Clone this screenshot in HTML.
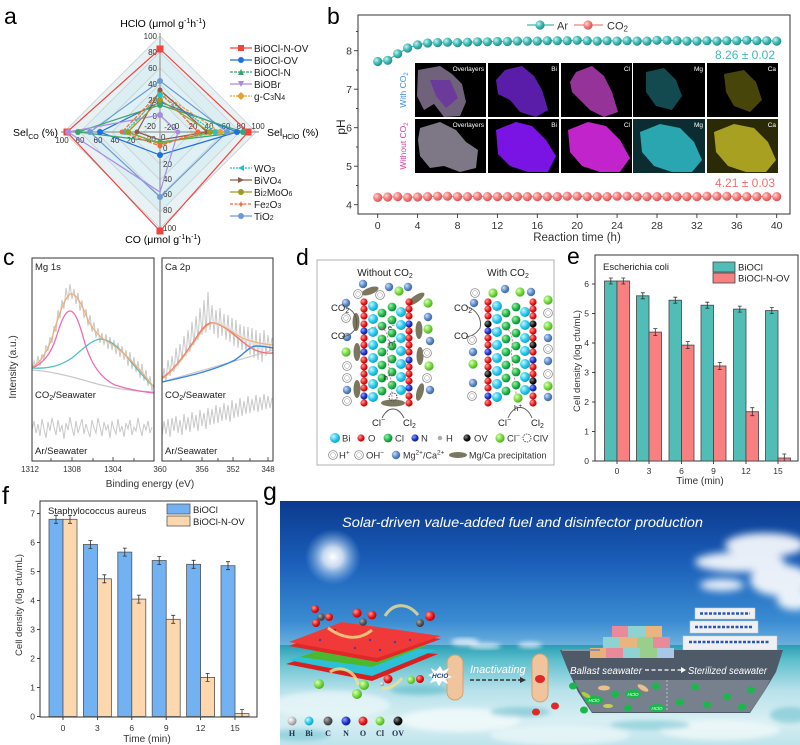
<!DOCTYPE html>
<html><head><meta charset="utf-8"><style>
html,body{margin:0;padding:0;background:#fff;}
svg{display:block;font-family:"Liberation Sans",Arial,sans-serif;}
</style></head><body>
<svg width="800" height="745" viewBox="0 0 800 745" xmlns="http://www.w3.org/2000/svg">
<defs>
<radialGradient id="gt" cx="35%" cy="35%" r="70%"><stop offset="0" stop-color="#c8f3f0"/><stop offset="0.5" stop-color="#45bdb8"/><stop offset="1" stop-color="#1f8985"/></radialGradient>
<radialGradient id="gp" cx="35%" cy="35%" r="70%"><stop offset="0" stop-color="#ffd6d6"/><stop offset="0.5" stop-color="#f57f7f"/><stop offset="1" stop-color="#d45050"/></radialGradient>
<radialGradient id="gBi" cx="35%" cy="35%" r="70%"><stop offset="0" stop-color="#c9f6ff"/><stop offset="0.6" stop-color="#22c8ea"/><stop offset="1" stop-color="#0a9ec0"/></radialGradient>
<radialGradient id="gO" cx="35%" cy="35%" r="70%"><stop offset="0" stop-color="#ff9a9a"/><stop offset="0.6" stop-color="#e81818"/><stop offset="1" stop-color="#b00000"/></radialGradient>
<radialGradient id="gCl" cx="35%" cy="35%" r="70%"><stop offset="0" stop-color="#9ff0a8"/><stop offset="0.6" stop-color="#1fb64a"/><stop offset="1" stop-color="#0c8030"/></radialGradient>
<radialGradient id="gClm" cx="35%" cy="35%" r="70%"><stop offset="0" stop-color="#dcffb8"/><stop offset="0.6" stop-color="#72d83a"/><stop offset="1" stop-color="#48a820"/></radialGradient>
<radialGradient id="gN" cx="35%" cy="35%" r="70%"><stop offset="0" stop-color="#8aa0ff"/><stop offset="0.6" stop-color="#2030c8"/><stop offset="1" stop-color="#101a80"/></radialGradient>
<radialGradient id="gMg" cx="35%" cy="35%" r="70%"><stop offset="0" stop-color="#c8dcf8"/><stop offset="0.6" stop-color="#5a86c6"/><stop offset="1" stop-color="#3a64a0"/></radialGradient>
<radialGradient id="gK" cx="35%" cy="35%" r="70%"><stop offset="0" stop-color="#888"/><stop offset="0.6" stop-color="#111"/><stop offset="1" stop-color="#000"/></radialGradient>
<radialGradient id="gC" cx="35%" cy="35%" r="70%"><stop offset="0" stop-color="#aaa"/><stop offset="0.6" stop-color="#555"/><stop offset="1" stop-color="#333"/></radialGradient>
<radialGradient id="gH" cx="35%" cy="35%" r="70%"><stop offset="0" stop-color="#fff"/><stop offset="0.6" stop-color="#bbb"/><stop offset="1" stop-color="#888"/></radialGradient>
<radialGradient id="sun" cx="50%" cy="50%" r="50%"><stop offset="0" stop-color="#fff" stop-opacity="1"/><stop offset="0.35" stop-color="#f4f8ff" stop-opacity="0.8"/><stop offset="1" stop-color="#8cc4f0" stop-opacity="0"/></radialGradient>
<linearGradient id="sky" x1="0" y1="0" x2="0" y2="1"><stop offset="0" stop-color="#0b3a8e"/><stop offset="0.4" stop-color="#1a5db8"/><stop offset="0.8" stop-color="#3a8cd2"/><stop offset="1" stop-color="#78b9e0"/></linearGradient>
<linearGradient id="sea" x1="0" y1="0" x2="0" y2="1"><stop offset="0" stop-color="#2b9db4"/><stop offset="0.15" stop-color="#5cbfcc"/><stop offset="0.45" stop-color="#b7e1ea"/><stop offset="0.75" stop-color="#d8eff3"/><stop offset="1" stop-color="#bfe4ec"/></linearGradient>
<filter id="blur2"><feGaussianBlur stdDeviation="2.5"/></filter>
<filter id="blur4"><feGaussianBlur stdDeviation="4"/></filter>
<filter id="blur1"><feGaussianBlur stdDeviation="1"/></filter>
<clipPath id="cL"><rect x="32" y="258" width="122" height="203"/></clipPath>
<clipPath id="cR"><rect x="162" y="258" width="111" height="203"/></clipPath>
<clipPath id="cG"><rect x="280" y="501" width="520" height="244"/></clipPath>
<circle id="bt" r="4.6" fill="url(#gt)"/>
<circle id="bp" r="4.6" fill="url(#gp)"/>
<circle id="aBi" r="5" fill="url(#gBi)"/>
<circle id="aO" r="3.6" fill="url(#gO)"/>
<circle id="aCl" r="4.4" fill="url(#gCl)"/>
<circle id="aN" r="3.6" fill="url(#gN)"/>
<circle id="aOV" r="3.6" fill="url(#gK)"/>
<circle id="aMg" r="4.2" fill="url(#gMg)"/>
<circle id="aClm" r="4.6" fill="url(#gClm)"/>
<g id="aOH"><circle r="4.4" fill="#fff" stroke="#888" stroke-width="0.8"/><circle r="2.4" fill="none" stroke="#999" stroke-width="0.5"/></g>
</defs>

<!-- ================= PANEL A ================= -->
<text x="4" y="24" font-size="23">a</text>
<text x="163" y="27" font-size="10.5" text-anchor="middle">HClO (μmol g<tspan dy="-4" font-size="7">-1</tspan><tspan dy="4">h</tspan><tspan dy="-4" font-size="7">-1</tspan><tspan dy="4">)</tspan></text>
<text x="163" y="243" font-size="10.5" text-anchor="middle">CO (μmol g<tspan dy="-4" font-size="7">-1</tspan><tspan dy="4">h</tspan><tspan dy="-4" font-size="7">-1</tspan><tspan dy="4">)</tspan></text>
<text x="13" y="136" font-size="10.5">Sel<tspan font-size="7" dy="3">CO</tspan><tspan dy="-3"> (%)</tspan></text>
<text x="267" y="136" font-size="10.5">Sel<tspan font-size="7" dy="3">HClO</tspan><tspan dy="-3"> (%)</tspan></text>
<!-- grid -->
<polygon points="160,36 256,132 160,228 64,132" fill="#e8f2f5" stroke="#c9cfd2" stroke-width="0.8"/>
<polygon points="160,52 240,132 160,212 80,132" fill="#dbeff3" stroke="#c9cfd2" stroke-width="0.8"/>
<polygon points="160,68 224,132 160,196 96,132" fill="#dff1f4" stroke="#c9cfd2" stroke-width="0.8"/>
<polygon points="160,84 208,132 160,180 112,132" fill="#dbeff3" stroke="#c9cfd2" stroke-width="0.8"/>
<polygon points="160,100 192,132 160,164 128,132" fill="#e0f1f4" stroke="#c9cfd2" stroke-width="0.8"/>
<polygon points="160,116 176,132 160,148 144,132" fill="#e6f3f6" stroke="#c9cfd2" stroke-width="0.8"/>
<line x1="160" y1="33" x2="160" y2="231" stroke="#9a9a9a" stroke-width="1.2"/>
<line x1="61" y1="132" x2="259" y2="132" stroke="#9a9a9a" stroke-width="1.2"/>
<g font-size="8" fill="#333">
<text x="157" y="39" text-anchor="end">100</text><text x="157" y="55" text-anchor="end">80</text><text x="157" y="71" text-anchor="end">60</text><text x="157" y="87" text-anchor="end">40</text><text x="157" y="103" text-anchor="end">20</text><text x="157" y="119" text-anchor="end">0</text>
<text x="163" y="151">0</text><text x="163" y="167">20</text><text x="163" y="182">40</text><text x="163" y="197">60</text><text x="163" y="213">80</text><text x="163" y="231">100</text>
<text x="62" y="143" text-anchor="middle">100</text><text x="80" y="143" text-anchor="middle">80</text><text x="98" y="143" text-anchor="middle">60</text><text x="115" y="143" text-anchor="middle">40</text><text x="131" y="143" text-anchor="middle">20</text>
<text x="177" y="129" text-anchor="middle">0</text><text x="193" y="129" text-anchor="middle">20</text><text x="209" y="129" text-anchor="middle">40</text><text x="226" y="129" text-anchor="middle">60</text><text x="241" y="129" text-anchor="middle">80</text><text x="258" y="129" text-anchor="middle">100</text>
<text x="150" y="129" text-anchor="middle">-20</text><text x="170" y="130" text-anchor="middle">-20</text><text x="150" y="142" text-anchor="middle">-20</text><text x="161" y="140">0</text>
</g>
<!-- series -->
<g fill="none" stroke-width="1.2">
<polygon points="160,49 248,132 160,231 67,132" stroke="#f0443f"/>
<polygon points="160,81 227,132 160,197 90,132" stroke="#6d9ad6"/>
<polygon points="160,102 237,132 160,155 100,132" stroke="#1f6fe0"/>
<polygon points="160,105 243,132 160,142 78,132" stroke="#3aa56e"/>
<polygon points="160,115 178,132 160,192 68,132" stroke="#a98be6"/>
<polygon points="160,92 220,132 160,143 128,132" stroke="#e6a033" stroke-dasharray="3,1.5"/>
<polygon points="160,95 215,132 160,143 125,132" stroke="#22c3cf" stroke-dasharray="2,1"/>
<polygon points="160,90 207,132 160,140 137,132" stroke="#8d5b4c"/>
<polygon points="160,100 210,132 160,144 128,132" stroke="#9c9c20"/>
<polygon points="160,92 198,132 160,146 122,132" stroke="#f2693c" stroke-dasharray="4,1.5"/>
</g>
<g>
<rect x="156.5" y="45.5" width="7" height="7" fill="#f0443f"/><rect x="244.5" y="128.5" width="7" height="7" fill="#f0443f"/><rect x="156.5" y="227.5" width="7" height="7" fill="#f0443f"/><rect x="63.5" y="128.5" width="7" height="7" fill="#f0443f"/>
<g fill="#6d9ad6"><circle cx="160" cy="81" r="3"/><circle cx="227" cy="132" r="3"/><circle cx="160" cy="197" r="3"/><circle cx="90" cy="132" r="3"/></g>
<g fill="#1f6fe0"><circle cx="160" cy="102" r="3"/><circle cx="237" cy="132" r="3"/><circle cx="160" cy="155" r="3"/><circle cx="100" cy="132" r="3"/></g>
<g fill="#3aa56e"><circle cx="160" cy="105" r="3"/><circle cx="243" cy="132" r="3"/><circle cx="160" cy="142" r="2.5"/><circle cx="78" cy="132" r="3"/></g>
<g fill="#a98be6"><circle cx="160" cy="115" r="3"/><circle cx="178" cy="132" r="2.5"/><circle cx="68" cy="132" r="3"/></g>
<g fill="#e6a033"><circle cx="160" cy="92" r="3"/><circle cx="220" cy="132" r="3"/><circle cx="128" cy="132" r="3"/></g>
<g fill="#22c3cf"><circle cx="160" cy="95" r="3"/><circle cx="215" cy="132" r="3"/><circle cx="125" cy="132" r="3"/></g>
<g fill="#8d5b4c"><circle cx="160" cy="90" r="2.5"/><circle cx="207" cy="132" r="2.5"/><circle cx="137" cy="132" r="2.5"/></g>
<g fill="#9c9c20"><circle cx="160" cy="100" r="3"/><circle cx="210" cy="132" r="3"/><circle cx="128" cy="132" r="3"/><circle cx="160" cy="144" r="2.5"/></g>
<g fill="#f2693c"><circle cx="198" cy="132" r="2.5"/><circle cx="122" cy="132" r="2.5"/><circle cx="160" cy="146" r="2.5"/></g>
</g>
<!-- legend a -->
<g font-size="10" fill="#222" stroke-width="1.2">
<line x1="230" y1="48" x2="252" y2="48" stroke="#f0443f"/><rect x="238" y="45" width="6" height="6" fill="#f0443f"/><text x="254" y="52">BiOCl-N-OV</text>
<line x1="230" y1="60" x2="252" y2="60" stroke="#1f6fe0"/><circle cx="241" cy="60" r="3" fill="#1f6fe0"/><text x="254" y="64">BiOCl-OV</text>
<line x1="230" y1="72" x2="252" y2="72" stroke="#3aa56e" stroke-dasharray="3,1"/><path d="M238,75 L244,75 L241,69Z" fill="#3aa56e"/><text x="254" y="76">BiOCl-N</text>
<line x1="230" y1="84" x2="252" y2="84" stroke="#a98be6"/><path d="M238,81 L244,81 L241,87Z" fill="#a98be6"/><text x="254" y="88">BiOBr</text>
<line x1="230" y1="96" x2="252" y2="96" stroke="#e6a033" stroke-dasharray="2,1"/><path d="M241,92 L245,96 L241,100 L237,96Z" fill="#e6a033"/><text x="254" y="100">g-C<tspan font-size="7">3</tspan>N<tspan font-size="7">4</tspan></text>
<line x1="230" y1="168" x2="252" y2="168" stroke="#22c3cf" stroke-dasharray="2,1"/><path d="M238,168 L244,165 L244,171Z" fill="#22c3cf"/><text x="254" y="172">WO<tspan font-size="7">3</tspan></text>
<line x1="230" y1="180" x2="252" y2="180" stroke="#8d5b4c"/><path d="M244,180 L238,177 L238,183Z" fill="#8d5b4c"/><text x="254" y="184">BiVO<tspan font-size="7">4</tspan></text>
<line x1="230" y1="192" x2="252" y2="192" stroke="#9c9c20"/><circle cx="241" cy="192" r="3" fill="#9c9c20"/><text x="254" y="196">Bi<tspan font-size="7">2</tspan>MoO<tspan font-size="7">6</tspan></text>
<line x1="230" y1="204" x2="252" y2="204" stroke="#f2693c" stroke-dasharray="3,1.5"/><path d="M241,201 L242,203.5 L244.5,204 L242,205 L241,207.5 L240,205 L237.5,204 L240,203.5Z" fill="#f2693c"/><text x="254" y="208">Fe<tspan font-size="7">2</tspan>O<tspan font-size="7">3</tspan></text>
<line x1="230" y1="216" x2="252" y2="216" stroke="#6d9ad6"/><circle cx="241" cy="216" r="3" fill="#6d9ad6"/><text x="254" y="220">TiO<tspan font-size="7">2</tspan></text>
</g>

<!-- ================= PANEL B ================= -->
<text x="327" y="24" font-size="23">b</text>
<rect x="358" y="15" width="432" height="199" fill="#fff" stroke="#333" stroke-width="1"/>
<g stroke="#333" stroke-width="0.9">
<line x1="354" y1="204.7" x2="358" y2="204.7"/><line x1="354" y1="166.2" x2="358" y2="166.2"/><line x1="354" y1="127.7" x2="358" y2="127.7"/><line x1="354" y1="89.2" x2="358" y2="89.2"/><line x1="354" y1="50.7" x2="358" y2="50.7"/>
<line x1="356" y1="185.5" x2="358" y2="185.5"/><line x1="356" y1="147" x2="358" y2="147"/><line x1="356" y1="108.5" x2="358" y2="108.5"/><line x1="356" y1="70" x2="358" y2="70"/><line x1="356" y1="31.5" x2="358" y2="31.5"/>
<line x1="377.7" y1="214" x2="377.7" y2="218"/><line x1="417.6" y1="214" x2="417.6" y2="218"/><line x1="457.5" y1="214" x2="457.5" y2="218"/><line x1="497.4" y1="214" x2="497.4" y2="218"/><line x1="537.3" y1="214" x2="537.3" y2="218"/><line x1="577.2" y1="214" x2="577.2" y2="218"/><line x1="617.1" y1="214" x2="617.1" y2="218"/><line x1="657" y1="214" x2="657" y2="218"/><line x1="696.9" y1="214" x2="696.9" y2="218"/><line x1="736.8" y1="214" x2="736.8" y2="218"/><line x1="776.7" y1="214" x2="776.7" y2="218"/>
</g>
<g font-size="10.5" fill="#333" text-anchor="end">
<text x="352" y="208.5">4</text><text x="352" y="170">5</text><text x="352" y="131.5">6</text><text x="352" y="93">7</text><text x="352" y="54.5">8</text>
</g>
<g font-size="10.5" fill="#333" text-anchor="middle">
<text x="377.7" y="229">0</text><text x="417.6" y="229">4</text><text x="457.5" y="229">8</text><text x="497.4" y="229">12</text><text x="537.3" y="229">16</text><text x="577.2" y="229">20</text><text x="617.1" y="229">24</text><text x="657" y="229">28</text><text x="696.9" y="229">32</text><text x="736.8" y="229">36</text><text x="776.7" y="229">40</text>
<text x="577" y="241" font-size="11.5">Reaction time (h)</text>
</g>
<text transform="translate(345,127) rotate(-90)" font-size="12" text-anchor="middle" fill="#222">pH</text>
<!-- legend b -->
<line x1="527" y1="25" x2="554" y2="25" stroke="#3cb8b4" stroke-width="1.3"/><use href="#bt" x="540" y="25"/>
<text x="557" y="29.5" font-size="11" fill="#333">Ar</text>
<line x1="574" y1="25" x2="603" y2="25" stroke="#f57f7f" stroke-width="1.3"/><use href="#bp" x="588" y="25"/>
<text x="607" y="29.5" font-size="11" fill="#333">CO<tspan font-size="8" dy="2">2</tspan></text>
<text x="775" y="59" font-size="12" fill="#3fb9b6" text-anchor="end">8.26 ± 0.02</text>
<text x="775" y="187" font-size="12" fill="#f27070" text-anchor="end">4.21 ± 0.03</text>
<!-- inset -->
<g>
<rect x="415" y="63" width="71" height="54" fill="#000"/>
<rect x="488" y="63" width="71" height="54" fill="#000"/>
<rect x="561" y="63" width="71" height="54" fill="#000"/>
<rect x="633" y="63" width="72" height="54" fill="#000"/>
<rect x="707" y="63" width="71" height="54" fill="#000"/>
<rect x="415" y="119" width="71" height="54" fill="#000"/>
<rect x="488" y="119" width="71" height="54" fill="#000"/>
<rect x="561" y="119" width="71" height="54" fill="#000"/>
<rect x="633" y="119" width="72" height="54" fill="#0b2c30"/>
<rect x="707" y="119" width="71" height="54" fill="#2a2a06"/>
<!-- row1 blobs -->
<path d="M418,70 L440,66 L452,74 L462,84 L466,102 L460,116 L444,117 L434,104 L424,110 L417,96Z" fill="#7d6d88" opacity="0.9"/>
<path d="M430,80 L450,80 L458,98 L446,108 L436,96Z" fill="#6a2aa8" opacity="0.7"/>
<path d="M505,70 L522,66 L534,76 L542,90 L548,110 L536,117 L520,112 L510,100 L498,94 L496,80Z" fill="#6a22c8" opacity="0.85"/>
<path d="M576,72 L592,66 L604,76 L612,92 L618,112 L604,117 L590,110 L580,100 L572,92 L570,82Z" fill="#b03cb4" opacity="0.85"/>
<path d="M646,72 L664,68 L676,80 L682,96 L672,110 L656,106 L646,92Z" fill="#1a6a72" opacity="0.7"/>
<path d="M724,74 L744,70 L756,82 L762,100 L750,112 L734,106 L726,92Z" fill="#5a560e" opacity="0.8"/>
<!-- row2 blobs -->
<path d="M420,128 L440,122 L456,130 L466,142 L478,150 L476,168 L460,172 L444,166 L430,168 L420,156 L418,140Z" fill="#8c8494" opacity="0.9"/>
<path d="M496,130 L516,122 L532,126 L546,140 L556,156 L548,172 L528,172 L510,166 L498,154Z" fill="#7a14e4"/>
<path d="M568,130 L588,122 L606,126 L620,140 L630,158 L620,172 L600,172 L582,166 L570,152Z" fill="#c224cc"/>
<path d="M640,132 L660,124 L680,128 L694,142 L702,160 L692,172 L672,172 L654,166 L642,152Z" fill="#2aa6b0"/>
<path d="M714,132 L734,124 L754,128 L768,142 L776,160 L766,172 L746,172 L728,166 L716,152Z" fill="#a8a020"/>
<g font-size="6.5" fill="#fff" text-anchor="end">
<text x="484" y="71">Overlayers</text><text x="557" y="71">Bi</text><text x="630" y="71">Cl</text><text x="703" y="71">Mg</text><text x="776" y="71">Ca</text>
<text x="484" y="127">Overlayers</text><text x="557" y="127">Bi</text><text x="630" y="127">Cl</text><text x="703" y="127">Mg</text><text x="776" y="127">Ca</text>
</g>
<text transform="translate(406,90) rotate(-90)" font-size="8.5" fill="#3a8ee6" text-anchor="middle">With CO<tspan font-size="6" dy="2">2</tspan></text>
<text transform="translate(406,146) rotate(-90)" font-size="8.5" fill="#e0409c" text-anchor="middle">Without CO<tspan font-size="6" dy="2">2</tspan></text>
</g>
<!-- series -->
<polyline fill="none" stroke="#3cb8b4" stroke-width="1.2" points="377.7,61.5 387.7,60.3 397.7,53.8 407.6,48 417.6,44.9 427.6,43 437.6,42.6 447.5,42.2 457.5,42.6 467.5,42.2 477.5,41.8 487.4,41.8 497.4,41.5 507.4,41.5 517.4,41.1 527.3,41.1 537.3,41.1 547.3,40.7 557.3,40.7 567.2,40.7 577.2,40.3 587.2,40.7 597.2,41.1 607.1,40.7 617.1,41.1 627.1,40.7 637.1,41.1 647,41.1 657,40.3 667,40.3 677,40.7 686.9,41.1 696.9,41.1 706.9,40.7 716.9,41.1 726.8,40.7 736.8,40.7 746.8,40.3 756.8,40.7 766.7,40.7 776.7,41.1"/>
<g>
<use href="#bt" x="377.7" y="61.5"/><use href="#bt" x="387.7" y="60.3"/><use href="#bt" x="397.7" y="53.8"/><use href="#bt" x="407.6" y="48"/><use href="#bt" x="417.6" y="44.9"/><use href="#bt" x="427.6" y="43"/><use href="#bt" x="437.6" y="42.6"/><use href="#bt" x="447.5" y="42.2"/><use href="#bt" x="457.5" y="42.6"/><use href="#bt" x="467.5" y="42.2"/><use href="#bt" x="477.5" y="41.8"/><use href="#bt" x="487.4" y="41.8"/><use href="#bt" x="497.4" y="41.5"/><use href="#bt" x="507.4" y="41.5"/><use href="#bt" x="517.4" y="41.1"/><use href="#bt" x="527.3" y="41.1"/><use href="#bt" x="537.3" y="41.1"/><use href="#bt" x="547.3" y="40.7"/><use href="#bt" x="557.3" y="40.7"/><use href="#bt" x="567.2" y="40.7"/><use href="#bt" x="577.2" y="40.3"/><use href="#bt" x="587.2" y="40.7"/><use href="#bt" x="597.2" y="41.1"/><use href="#bt" x="607.1" y="40.7"/><use href="#bt" x="617.1" y="41.1"/><use href="#bt" x="627.1" y="40.7"/><use href="#bt" x="637.1" y="41.1"/><use href="#bt" x="647" y="41.1"/><use href="#bt" x="657" y="40.3"/><use href="#bt" x="667" y="40.3"/><use href="#bt" x="677" y="40.7"/><use href="#bt" x="686.9" y="41.1"/><use href="#bt" x="696.9" y="41.1"/><use href="#bt" x="706.9" y="40.7"/><use href="#bt" x="716.9" y="41.1"/><use href="#bt" x="726.8" y="40.7"/><use href="#bt" x="736.8" y="40.7"/><use href="#bt" x="746.8" y="40.3"/><use href="#bt" x="756.8" y="40.7"/><use href="#bt" x="766.7" y="40.7"/><use href="#bt" x="776.7" y="41.1"/>
</g>
<polyline fill="none" stroke="#f57f7f" stroke-width="1.2" points="377.7,197.4 387.7,197 397.7,196.6 407.6,197.4 417.6,197 427.6,196.6 437.6,196.2 447.5,196.2 457.5,196.6 467.5,196.6 477.5,196.2 487.4,196.6 497.4,196.6 507.4,196.6 517.4,196.6 527.3,196.6 537.3,196.6 547.3,196.6 557.3,196.6 567.2,196.2 577.2,196.2 587.2,196.6 597.2,196.6 607.1,196.6 617.1,196.2 627.1,196.2 637.1,196.6 647,196.6 657,196.6 667,196.6 677,196.6 686.9,196.6 696.9,196.6 706.9,196.2 716.9,196.2 726.8,196.2 736.8,196.6 746.8,196.6 756.8,196.6 766.7,196.6 776.7,196.6"/>
<g>
<use href="#bp" x="377.7" y="197.4"/><use href="#bp" x="387.7" y="197"/><use href="#bp" x="397.7" y="196.6"/><use href="#bp" x="407.6" y="197.4"/><use href="#bp" x="417.6" y="197"/><use href="#bp" x="427.6" y="196.6"/><use href="#bp" x="437.6" y="196.2"/><use href="#bp" x="447.5" y="196.2"/><use href="#bp" x="457.5" y="196.6"/><use href="#bp" x="467.5" y="196.6"/><use href="#bp" x="477.5" y="196.2"/><use href="#bp" x="487.4" y="196.6"/><use href="#bp" x="497.4" y="196.6"/><use href="#bp" x="507.4" y="196.6"/><use href="#bp" x="517.4" y="196.6"/><use href="#bp" x="527.3" y="196.6"/><use href="#bp" x="537.3" y="196.6"/><use href="#bp" x="547.3" y="196.6"/><use href="#bp" x="557.3" y="196.6"/><use href="#bp" x="567.2" y="196.2"/><use href="#bp" x="577.2" y="196.2"/><use href="#bp" x="587.2" y="196.6"/><use href="#bp" x="597.2" y="196.6"/><use href="#bp" x="607.1" y="196.6"/><use href="#bp" x="617.1" y="196.2"/><use href="#bp" x="627.1" y="196.2"/><use href="#bp" x="637.1" y="196.6"/><use href="#bp" x="647" y="196.6"/><use href="#bp" x="657" y="196.6"/><use href="#bp" x="667" y="196.6"/><use href="#bp" x="677" y="196.6"/><use href="#bp" x="686.9" y="196.6"/><use href="#bp" x="696.9" y="196.6"/><use href="#bp" x="706.9" y="196.2"/><use href="#bp" x="716.9" y="196.2"/><use href="#bp" x="726.8" y="196.2"/><use href="#bp" x="736.8" y="196.6"/><use href="#bp" x="746.8" y="196.6"/><use href="#bp" x="756.8" y="196.6"/><use href="#bp" x="766.7" y="196.6"/><use href="#bp" x="776.7" y="196.6"/>
</g>

<!-- ================= PANEL C ================= -->
<text x="3" y="265" font-size="23">c</text>
<text transform="translate(16,367) rotate(-90)" font-size="10" text-anchor="middle" fill="#333">Intensity (a.u.)</text>
<g clip-path="url(#cL)" fill="none">
<polyline stroke="#c8c8c8" stroke-width="1" points="32,370 34,361 36,367 38,356 40,366 42,354 44,360 46,345 48,351 50,337 52,343 54,326 56,332 58,310 60,318 62,300 64,309 66,288 68,300 70,284 72,299 74,289 76,304 78,293 80,311 82,300 84,318 86,309 88,326 90,315 92,332 94,322 96,338 98,328 100,343 102,333 104,345 106,334 108,349 110,337 112,350 114,340 116,354 118,343 120,357 122,346 124,360 126,350 128,366 130,352 132,369 134,357 136,372 138,361 140,378 142,364 144,381 146,370 148,386 150,376 152,391 154,383"/>
<path d="M32,370 C50,371 70,376 90,382 C110,388 130,391 154,392" stroke="#c8c8c8" stroke-width="1.2"/>
<path d="M32,368 C42,364 50,356 56,338 C62,318 66,311 70,311 C75,311 79,322 84,340 C90,362 100,378 115,385 C130,390 145,392 154,393" stroke="#f06ab4" stroke-width="1.3"/>
<path d="M32,368 C48,369 60,366 72,358 C84,348 92,340 100,339 C110,339 118,347 127,357 C136,368 146,380 154,387" stroke="#4ec0c4" stroke-width="1.3"/>
<path d="M32,367 C40,363 46,354 52,338 C58,318 63,300 70,294 C76,292 82,305 88,320 C94,332 102,339 110,343 C120,349 130,359 140,370 C146,377 150,383 154,387" stroke="#f2ad70" stroke-width="1.3"/>
<polyline stroke="#c8c8c8" stroke-width="1" points="32,430 34,421 36,433 38,424 40,436 42,419 44,429 46,438 48,422 50,431 52,418 54,427 56,435 58,420 60,432 62,425 64,439 66,423 68,430 70,417 72,428 74,436 76,421 78,433 80,426 82,419 84,434 86,424 88,431 90,437 92,420 94,428 96,433 98,418 100,427 102,436 104,422 106,430 108,425 110,438 112,421 114,429 116,434 118,419 120,432 122,426 124,437 126,423 128,429 130,420 132,435 134,427 136,431 138,418 140,428 142,436 144,424 146,430 148,421 150,433 152,427"/>
</g>
<g clip-path="url(#cR)" fill="none">
<polyline stroke="#c8c8c8" stroke-width="1" points="162,384 164,368 166,381 168,360 170,376 172,356 174,372 176,348 178,366 180,344 182,360 184,336 186,356 188,330 190,352 192,322 194,345 196,316 198,340 200,308 202,335 204,300 206,333 208,292 210,330 212,305 214,334 216,310 218,338 220,308 222,336 224,314 226,340 228,315 230,342 232,318 234,346 236,320 238,348 240,324 242,350 244,326 246,352 248,327 250,355 252,328 254,358 256,330 258,360 260,333 262,362 264,330 266,356 268,335 270,352 272,338"/>
<path d="M162,382 L273,350" stroke="#c8c8c8" stroke-width="1.2"/>
<path d="M162,382 C190,376 215,370 235,360 C245,353 250,346 256,346 C262,346 268,347 273,348" stroke="#3a86e0" stroke-width="1.4"/>
<path d="M162,378 C175,370 188,350 200,332 C206,324 210,322 214,323 C222,324 232,333 243,342 C252,350 262,354 273,353" stroke="#f27272" stroke-width="1.4"/>
<path d="M162,379 C176,370 190,348 202,331 C207,325 211,323 214,323 C222,324 232,332 242,338 C252,342 262,344 273,345" stroke="#f2ad70" stroke-width="1.1"/>
<polyline stroke="#c8c8c8" stroke-width="1" points="162,436 164,421 166,434 168,419 170,437 172,418 174,431 176,416 178,433 180,420 182,435 184,414 186,430 188,417 190,432 192,412 194,428 196,415 198,431 200,410 202,426 204,413 206,429 208,408 210,425 212,409 214,424 216,405 218,423 220,407 222,421 224,403 226,420 228,405 230,422 232,400 234,418 236,403 238,417 240,398 242,416 244,401 246,414 248,396 250,413 252,399 254,411 256,395 258,412 260,397 262,410 264,394 266,409 268,396 270,408 272,398"/>
</g>
<rect x="32" y="258" width="122" height="203" fill="none" stroke="#333" stroke-width="1"/>
<rect x="162" y="258" width="111" height="203" fill="none" stroke="#333" stroke-width="1"/>
<g font-size="9.5" fill="#222">
<text x="35" y="270">Mg 1s</text><text x="165" y="270">Ca 2p</text>
<text x="35" y="398">CO<tspan font-size="7" dy="2">2</tspan><tspan dy="-2">/Seawater</tspan></text>
<text x="165" y="398">CO<tspan font-size="7" dy="2">2</tspan><tspan dy="-2">/Seawater</tspan></text>
<text x="35" y="454">Ar/Seawater</text><text x="165" y="454">Ar/Seawater</text>
</g>
<g stroke="#333" stroke-width="0.8">
<line x1="51" y1="461" x2="51" y2="458"/><line x1="72" y1="461" x2="72" y2="457"/><line x1="93" y1="461" x2="93" y2="458"/><line x1="113" y1="461" x2="113" y2="457"/><line x1="134" y1="461" x2="134" y2="458"/>
<line x1="181" y1="461" x2="181" y2="458"/><line x1="202" y1="461" x2="202" y2="457"/><line x1="218" y1="461" x2="218" y2="458"/><line x1="233" y1="461" x2="233" y2="457"/><line x1="250" y1="461" x2="250" y2="458"/><line x1="268" y1="461" x2="268" y2="457"/>
</g>
<g font-size="8" fill="#333" text-anchor="middle">
<text x="30" y="472">1312</text><text x="72" y="472">1308</text><text x="113" y="472">1304</text><text x="160" y="472">360</text><text x="202" y="472">356</text><text x="233" y="472">352</text><text x="268" y="472">348</text>
<text x="150" y="487" font-size="10">Binding energy (eV)</text>
</g>

<!-- ================= PANEL D ================= -->
<text x="296" y="265" font-size="23">d</text>
<rect x="317" y="260" width="237" height="205" fill="#fff" stroke="#b0b0b0" stroke-width="1"/>
<text x="385" y="276" font-size="10" text-anchor="middle" fill="#222">Without CO<tspan font-size="7" dy="2">2</tspan></text>
<text x="508" y="276" font-size="10" text-anchor="middle" fill="#222">With CO<tspan font-size="7" dy="2">2</tspan></text>
<!-- precipitation ellipses -->
<g fill="#7b775f">
<ellipse cx="370" cy="291" rx="9" ry="3.5" transform="rotate(-20 370 291)"/>
<ellipse cx="416" cy="299" rx="10" ry="3.5" transform="rotate(-35 416 299)"/>
<ellipse cx="356" cy="322" rx="3.5" ry="9"/>
<ellipse cx="357" cy="352" rx="3.5" ry="9"/>
<ellipse cx="419" cy="330" rx="3.5" ry="9"/>
<ellipse cx="420" cy="356" rx="3.5" ry="9"/>
<ellipse cx="357" cy="389" rx="3.5" ry="9"/>
<ellipse cx="420" cy="392" rx="3.5" ry="9" transform="rotate(15 420 392)"/>
<ellipse cx="393" cy="403" rx="12" ry="3.5"/>
</g>
<!-- left structure -->
<g>
<use href="#aO" x="364" y="302"/><use href="#aO" x="364" y="309"/><use href="#aO" x="364" y="316"/><use href="#aO" x="364" y="324"/><use href="#aN" x="364" y="331"/><use href="#aO" x="364" y="338"/><use href="#aO" x="364" y="345"/><use href="#aN" x="364" y="352"/><use href="#aO" x="364" y="360"/><use href="#aO" x="364" y="367"/><use href="#aO" x="364" y="374"/><use href="#aO" x="364" y="381"/><use href="#aO" x="364" y="388"/><use href="#aN" x="364" y="396"/><use href="#aO" x="364" y="403"/>
<use href="#aO" x="409" y="302"/><use href="#aO" x="409" y="309"/><use href="#aO" x="409" y="316"/><use href="#aN" x="409" y="324"/><use href="#aO" x="409" y="331"/><use href="#aO" x="409" y="338"/><use href="#aO" x="409" y="345"/><use href="#aO" x="409" y="352"/><use href="#aN" x="409" y="360"/><use href="#aO" x="409" y="367"/><use href="#aO" x="409" y="374"/><use href="#aO" x="409" y="381"/><use href="#aN" x="409" y="388"/><use href="#aO" x="409" y="396"/><use href="#aO" x="409" y="403"/>
<use href="#aCl" x="382" y="313"/><use href="#aCl" x="382" y="326"/><use href="#aCl" x="382" y="339"/><use href="#aCl" x="382" y="352"/><use href="#aCl" x="382" y="365"/><use href="#aCl" x="382" y="378"/><use href="#aCl" x="382" y="391"/>
<use href="#aCl" x="392" y="307"/><use href="#aCl" x="392" y="320"/><use href="#aCl" x="392" y="333"/><use href="#aCl" x="392" y="346"/><use href="#aCl" x="392" y="359"/><use href="#aCl" x="392" y="372"/><use href="#aCl" x="392" y="385"/>
<use href="#aBi" x="373" y="306"/><use href="#aBi" x="373" y="319"/><use href="#aBi" x="373" y="332"/><use href="#aBi" x="373" y="345"/><use href="#aBi" x="373" y="358"/><use href="#aBi" x="373" y="371"/><use href="#aBi" x="373" y="384"/><use href="#aBi" x="373" y="397"/>
<use href="#aBi" x="401" y="312"/><use href="#aBi" x="401" y="325"/><use href="#aBi" x="401" y="338"/><use href="#aBi" x="401" y="351"/><use href="#aBi" x="401" y="364"/><use href="#aBi" x="401" y="377"/><use href="#aBi" x="401" y="390"/>
</g>
<g>
<use href="#aMg" x="363" y="284"/><use href="#aOH" x="358" y="294"/><use href="#aOH" x="380" y="295"/><use href="#aMg" x="389" y="287"/><use href="#aClm" x="399" y="291"/><use href="#aMg" x="408" y="287"/>
<use href="#aMg" x="346" y="303"/><use href="#aClm" x="428" y="303"/><use href="#aMg" x="428" y="317"/><use href="#aClm" x="428" y="329"/><use href="#aMg" x="430" y="341"/><use href="#aOH" x="427" y="353"/><use href="#aClm" x="429" y="366"/><use href="#aOH" x="427" y="378"/><use href="#aMg" x="430" y="390"/>
<use href="#aOH" x="346" y="318"/><use href="#aMg" x="347" y="337"/><use href="#aClm" x="346" y="352"/><use href="#aOH" x="347" y="366"/><use href="#aOH" x="347" y="378"/><use href="#aMg" x="347" y="390"/><use href="#aOH" x="347" y="401"/>
</g>
<g font-size="9.5" fill="#222">
<text x="331" y="311">CO<tspan font-size="7" dy="2">2</tspan></text><text x="331" y="339">CO</text>
<text x="454" y="311">CO<tspan font-size="7" dy="2">2</tspan></text><text x="454" y="339">CO</text>
<text x="372" y="426">Cl<tspan font-size="7" dy="-4">−</tspan></text><text x="403" y="426">Cl<tspan font-size="7" dy="2">2</tspan></text>
<text x="498" y="426">Cl<tspan font-size="7" dy="-4">−</tspan></text><text x="531" y="426">Cl<tspan font-size="7" dy="2">2</tspan></text>
<text x="514" y="411" font-size="8">h<tspan font-size="6" dy="-3">+</tspan></text>
<text x="389" y="346" font-size="7">h<tspan font-size="5" dy="-3">+</tspan></text>
<text x="384" y="380" font-size="7">h<tspan font-size="5" dy="-3">+</tspan></text>
<text x="388" y="330" font-size="7">e<tspan font-size="5" dy="-3">−</tspan></text>
</g>
<g fill="none" stroke="#555" stroke-width="0.9">
<path d="M343,306 C356,310 358,320 356,328 C352,334 348,336 342,337"/>
<path d="M466,306 C478,310 482,320 480,328 C476,334 472,336 466,337"/>
<path d="M382,418 C388,406 398,406 404,418"/>
<path d="M508,418 C514,404 526,404 532,418"/>
</g>
<g fill="none" stroke="#f0509c" stroke-width="0.8" stroke-dasharray="2,1.5">
<path d="M368,330 C380,322 390,330 388,345 C386,360 392,375 392,400"/>
<path d="M492,330 C504,322 514,330 512,345 C510,360 516,380 516,395"/>
</g>
<circle cx="393" cy="397" r="4" fill="none" stroke="#444" stroke-dasharray="1.5,1"/>
<!-- right structure -->
<g>
<use href="#aO" x="488" y="302"/><use href="#aO" x="488" y="309"/><use href="#aO" x="488" y="316"/><use href="#aOV" x="488" y="324"/><use href="#aN" x="488" y="331"/><use href="#aO" x="488" y="338"/><use href="#aO" x="488" y="345"/><use href="#aN" x="488" y="352"/><use href="#aO" x="488" y="360"/><use href="#aO" x="488" y="367"/><use href="#aOV" x="488" y="374"/><use href="#aO" x="488" y="381"/><use href="#aO" x="488" y="388"/><use href="#aN" x="488" y="396"/><use href="#aO" x="488" y="403"/>
<use href="#aO" x="533" y="302"/><use href="#aO" x="533" y="309"/><use href="#aO" x="533" y="316"/><use href="#aOV" x="533" y="324"/><use href="#aO" x="533" y="331"/><use href="#aO" x="533" y="338"/><use href="#aOV" x="533" y="345"/><use href="#aO" x="533" y="352"/><use href="#aN" x="533" y="360"/><use href="#aO" x="533" y="367"/><use href="#aO" x="533" y="374"/><use href="#aOV" x="533" y="381"/><use href="#aN" x="533" y="388"/><use href="#aO" x="533" y="396"/><use href="#aO" x="533" y="403"/>
<use href="#aCl" x="506" y="313"/><use href="#aCl" x="506" y="326"/><use href="#aCl" x="506" y="339"/><use href="#aCl" x="506" y="352"/><use href="#aCl" x="506" y="365"/><use href="#aCl" x="506" y="378"/><use href="#aCl" x="506" y="391"/>
<use href="#aCl" x="516" y="307"/><use href="#aCl" x="516" y="320"/><use href="#aCl" x="516" y="333"/><use href="#aCl" x="516" y="346"/><use href="#aCl" x="516" y="359"/><use href="#aCl" x="516" y="372"/><use href="#aCl" x="516" y="385"/>
<use href="#aBi" x="497" y="306"/><use href="#aBi" x="497" y="319"/><use href="#aBi" x="497" y="332"/><use href="#aBi" x="497" y="345"/><use href="#aBi" x="497" y="358"/><use href="#aBi" x="497" y="371"/><use href="#aBi" x="497" y="384"/><use href="#aBi" x="497" y="397"/>
<use href="#aBi" x="525" y="312"/><use href="#aBi" x="525" y="325"/><use href="#aBi" x="525" y="338"/><use href="#aBi" x="525" y="351"/><use href="#aBi" x="525" y="364"/><use href="#aBi" x="525" y="377"/><use href="#aBi" x="525" y="390"/>
<use href="#aClm" x="518" y="398"/>
</g>
<g>
<use href="#aOH" x="475" y="293"/><use href="#aClm" x="493" y="293"/><use href="#aMg" x="505" y="289"/><use href="#aClm" x="520" y="292"/><use href="#aMg" x="531" y="292"/>
<use href="#aMg" x="474" y="303"/><use href="#aOH" x="472" y="340"/><use href="#aMg" x="473" y="352"/><use href="#aClm" x="473" y="364"/><use href="#aMg" x="473" y="383"/><use href="#aOH" x="472" y="396"/>
<use href="#aClm" x="548" y="300"/><use href="#aOH" x="548" y="313"/><use href="#aClm" x="548" y="326"/><use href="#aMg" x="548" y="338"/><use href="#aOH" x="548" y="349"/><use href="#aMg" x="548" y="361"/><use href="#aOH" x="548" y="374"/><use href="#aClm" x="548" y="386"/><use href="#aMg" x="548" y="397"/>
</g>
<!-- legend d -->
<g font-size="9.5" fill="#333">
<use href="#aBi" x="335" y="438"/><text x="342" y="441.5">Bi</text>
<use href="#aO" x="361" y="438"/><text x="368" y="441.5">O</text>
<use href="#aCl" x="388" y="438"/><text x="395" y="441.5">Cl</text>
<use href="#aN" x="415" y="438"/><text x="421" y="441.5">N</text>
<circle cx="440" cy="438" r="2.2" fill="#aaa"/><text x="446" y="441.5">H</text>
<use href="#aOV" x="467" y="438"/><text x="474" y="441.5">OV</text>
<use href="#aClm" x="500" y="438"/><text x="507" y="441.5">Cl<tspan font-size="6.5" dy="-4">−</tspan></text>
<circle cx="527" cy="438" r="4" fill="none" stroke="#555" stroke-dasharray="1.5,1"/><text x="533" y="441.5">ClV</text>
<use href="#aOH" x="333" y="455"/><text x="339" y="458.5">H<tspan font-size="6.5" dy="-4">+</tspan></text>
<use href="#aOH" x="359" y="455"/><text x="366" y="458.5">OH<tspan font-size="6.5" dy="-4">−</tspan></text>
<use href="#aMg" x="396" y="455"/><text x="403" y="458.5" font-size="9">Mg<tspan font-size="6.5" dy="-4">2+</tspan><tspan dy="4">/Ca</tspan><tspan font-size="6.5" dy="-4">2+</tspan></text>
<ellipse cx="458" cy="455" rx="9" ry="3" fill="#7b775f"/><text x="469" y="458.5" font-size="9">Mg/Ca precipitation</text>
</g>

<!-- ================= PANEL E ================= -->
<text x="567" y="264" font-size="23">e</text>
<rect x="595" y="255" width="203" height="206" fill="#fff" stroke="#333" stroke-width="1"/>
<g stroke="#444" stroke-width="0.8">
<rect x="604.5" y="281" width="12.5" height="180" fill="#52bdb7"/>
<rect x="636.5" y="295.8" width="12.5" height="165.2" fill="#52bdb7"/>
<rect x="669" y="300.2" width="12.5" height="160.8" fill="#52bdb7"/>
<rect x="701" y="305.2" width="12.5" height="155.8" fill="#52bdb7"/>
<rect x="733.5" y="309.1" width="12.5" height="151.9" fill="#52bdb7"/>
<rect x="765.5" y="310.6" width="12.5" height="150.4" fill="#52bdb7"/>
<rect x="617" y="281" width="12.5" height="180" fill="#f98080"/>
<rect x="649" y="332.1" width="12.5" height="128.9" fill="#f98080"/>
<rect x="681.5" y="345.1" width="12.5" height="115.9" fill="#f98080"/>
<rect x="713.5" y="366" width="12.5" height="95" fill="#f98080"/>
<rect x="746" y="411.7" width="12.5" height="49.3" fill="#f98080"/>
<rect x="778" y="458" width="12.5" height="3" fill="#f98080"/>
</g>
<g stroke="#333" stroke-width="0.8" fill="none">
<path d="M610.8,278v6M608.8,278h4M608.8,284h4"/><path d="M623.3,278v6M621.3,278h4M621.3,284h4"/>
<path d="M642.8,292.8v6M640.8,292.8h4M640.8,298.8h4"/><path d="M655.3,328.6v7M653.3,328.6h4M653.3,335.6h4"/>
<path d="M675.3,297.2v6M673.3,297.2h4M673.3,303.2h4"/><path d="M687.8,341.6v7M685.8,341.6h4M685.8,348.6h4"/>
<path d="M707.3,302.2v6M705.3,302.2h4M705.3,308.2h4"/><path d="M719.8,362.5v7M717.8,362.5h4M717.8,369.5h4"/>
<path d="M739.8,306.1v6M737.8,306.1h4M737.8,312.1h4"/><path d="M752.3,407.7v8M750.3,407.7h4M750.3,415.7h4"/>
<path d="M771.8,307.6v6M769.8,307.6h4M769.8,313.6h4"/><path d="M784.3,454v7M782.3,454h4"/>
</g>
<g stroke="#333" stroke-width="0.9">
<line x1="592" y1="461" x2="595" y2="461"/><line x1="592" y1="431.5" x2="595" y2="431.5"/><line x1="592" y1="402" x2="595" y2="402"/><line x1="592" y1="372.5" x2="595" y2="372.5"/><line x1="592" y1="343" x2="595" y2="343"/><line x1="592" y1="313.5" x2="595" y2="313.5"/><line x1="592" y1="284" x2="595" y2="284"/>
<line x1="617" y1="461" x2="617" y2="464"/><line x1="649" y1="461" x2="649" y2="464"/><line x1="681.5" y1="461" x2="681.5" y2="464"/><line x1="713.5" y1="461" x2="713.5" y2="464"/><line x1="746" y1="461" x2="746" y2="464"/><line x1="778" y1="461" x2="778" y2="464"/>
</g>
<g font-size="8.5" fill="#333" text-anchor="end">
<text x="589" y="464">0</text><text x="589" y="434.5">1</text><text x="589" y="405">2</text><text x="589" y="375.5">3</text><text x="589" y="346">4</text><text x="589" y="316.5">5</text><text x="589" y="287">6</text>
</g>
<g font-size="8.5" fill="#333" text-anchor="middle">
<text x="617" y="474">0</text><text x="649" y="474">3</text><text x="681.5" y="474">6</text><text x="713.5" y="474">9</text><text x="746" y="474">12</text><text x="778" y="474">15</text>
<text x="700" y="484" font-size="10">Time (min)</text>
</g>
<text transform="translate(580,361) rotate(-90)" font-size="9.5" text-anchor="middle" fill="#333">Cell density (log cfu/mL)</text>
<text x="603" y="270" font-size="9.5" fill="#222">Escherichia coli</text>
<rect x="713" y="262" width="22" height="10" fill="#52bdb7" stroke="#444" stroke-width="0.8"/><text x="738" y="270.5" font-size="9.5" fill="#222">BiOCl</text>
<rect x="713" y="273" width="22" height="10" fill="#f98080" stroke="#444" stroke-width="0.8"/><text x="738" y="281.5" font-size="9.5" fill="#222">BiOCl-N-OV</text>

<!-- ================= PANEL F ================= -->
<text x="2" y="504" font-size="25">f</text>
<rect x="40" y="501" width="217" height="216" fill="#fff" stroke="#333" stroke-width="1"/>
<g stroke="#555" stroke-width="0.8">
<rect x="49" y="519.3" width="14" height="197.2" fill="#72b2f2"/>
<rect x="83.4" y="544.5" width="14" height="172" fill="#72b2f2"/>
<rect x="117.8" y="552.1" width="14" height="164.4" fill="#72b2f2"/>
<rect x="152.2" y="560.5" width="14" height="156" fill="#72b2f2"/>
<rect x="186.6" y="564.3" width="14" height="152.2" fill="#72b2f2"/>
<rect x="221" y="565.7" width="14" height="150.8" fill="#72b2f2"/>
<rect x="63" y="519.3" width="14" height="197.2" fill="#fdd8ae"/>
<rect x="97.4" y="578.8" width="14" height="137.7" fill="#fdd8ae"/>
<rect x="131.8" y="599.1" width="14" height="117.4" fill="#fdd8ae"/>
<rect x="166.2" y="619.3" width="14" height="97.2" fill="#fdd8ae"/>
<rect x="200.6" y="677.4" width="14" height="39.1" fill="#fdd8ae"/>
<rect x="235" y="713.6" width="14" height="2.9" fill="#fdd8ae"/>
</g>
<g stroke="#333" stroke-width="0.8" fill="none">
<path d="M56,515.3v8M54,515.3h4M54,523.3h4"/><path d="M70,515.3v8M68,515.3h4M68,523.3h4"/>
<path d="M90.4,540.5v8M88.4,540.5h4M88.4,548.5h4"/><path d="M104.4,574.8v8M102.4,574.8h4M102.4,582.8h4"/>
<path d="M124.8,548.1v8M122.8,548.1h4M122.8,556.1h4"/><path d="M138.8,595.1v8M136.8,595.1h4M136.8,603.1h4"/>
<path d="M159.2,556.5v8M157.2,556.5h4M157.2,564.5h4"/><path d="M173.2,615.3v8M171.2,615.3h4M171.2,623.3h4"/>
<path d="M193.6,560.3v8M191.6,560.3h4M191.6,568.3h4"/><path d="M207.6,673.4v8M205.6,673.4h4M205.6,681.4h4"/>
<path d="M228,561.7v8M226,561.7h4M226,569.7h4"/><path d="M242,709.6v7M240,709.6h4"/>
</g>
<g stroke="#333" stroke-width="0.9">
<line x1="37" y1="716.5" x2="40" y2="716.5"/><line x1="37" y1="687.5" x2="40" y2="687.5"/><line x1="37" y1="658.5" x2="40" y2="658.5"/><line x1="37" y1="629.5" x2="40" y2="629.5"/><line x1="37" y1="600.5" x2="40" y2="600.5"/><line x1="37" y1="571.5" x2="40" y2="571.5"/><line x1="37" y1="542.5" x2="40" y2="542.5"/><line x1="37" y1="513.5" x2="40" y2="513.5"/>
<line x1="63" y1="717" x2="63" y2="720"/><line x1="97.4" y1="717" x2="97.4" y2="720"/><line x1="131.8" y1="717" x2="131.8" y2="720"/><line x1="166.2" y1="717" x2="166.2" y2="720"/><line x1="200.6" y1="717" x2="200.6" y2="720"/><line x1="235" y1="717" x2="235" y2="720"/>
</g>
<g font-size="8.5" fill="#333" text-anchor="end">
<text x="35" y="719.5">0</text><text x="35" y="690.5">1</text><text x="35" y="661.5">2</text><text x="35" y="632.5">3</text><text x="35" y="603.5">4</text><text x="35" y="574.5">5</text><text x="35" y="545.5">6</text><text x="35" y="516.5">7</text>
</g>
<g font-size="8.5" fill="#333" text-anchor="middle">
<text x="63" y="731">0</text><text x="97.4" y="731">3</text><text x="131.8" y="731">6</text><text x="166.2" y="731">9</text><text x="200.6" y="731">12</text><text x="235" y="731">15</text>
<text x="147" y="742" font-size="10">Time (min)</text>
</g>
<text transform="translate(22,605) rotate(-90)" font-size="9.5" text-anchor="middle" fill="#333">Cell density (log cfu/mL)</text>
<text x="48" y="514" font-size="9.5" fill="#222">Staphylococcus aureus</text>
<rect x="167" y="504" width="23" height="10" fill="#72b2f2" stroke="#555" stroke-width="0.8"/><text x="193" y="513" font-size="9.5" fill="#222">BiOCl</text>
<rect x="167" y="516" width="23" height="10" fill="#fdd8ae" stroke="#555" stroke-width="0.8"/><text x="193" y="525" font-size="9.5" fill="#222">BiOCl-N-OV</text>

<!-- ================= PANEL G ================= -->
<text x="263" y="500" font-size="25">g</text>
<g clip-path="url(#cG)">
<rect x="280" y="501" width="520" height="150" fill="url(#sky)"/>
<rect x="280" y="645" width="520" height="100" fill="url(#sea)"/>
<!-- sun -->
<circle cx="333" cy="557" r="28" fill="url(#sun)"/>
<!-- clouds -->
<g fill="#fff" filter="url(#blur4)" opacity="0.9">
<ellipse cx="765" cy="545" rx="40" ry="12"/>
<ellipse cx="740" cy="562" rx="45" ry="10"/>
<ellipse cx="780" cy="580" rx="30" ry="16"/>
<ellipse cx="722" cy="585" rx="22" ry="6"/>
<ellipse cx="795" cy="600" rx="18" ry="10"/>
</g>
<g fill="#e8f2fa" filter="url(#blur2)" opacity="0.8">
<ellipse cx="465" cy="642" rx="14" ry="4"/><ellipse cx="485" cy="646" rx="16" ry="3"/><ellipse cx="530" cy="645" rx="12" ry="3"/>
</g>
<!-- sea foam -->
<g filter="url(#blur2)">
<ellipse cx="330" cy="705" rx="60" ry="14" fill="#e8f6f8" opacity="0.8"/>
<ellipse cx="460" cy="720" rx="60" ry="12" fill="#f2fafb" opacity="0.8"/>
<ellipse cx="560" cy="735" rx="70" ry="10" fill="#eaf6f8" opacity="0.8"/>
<ellipse cx="720" cy="730" rx="60" ry="10" fill="#f0f9fa" opacity="0.8"/>
<ellipse cx="420" cy="690" rx="30" ry="5" fill="#56b7c8" opacity="0.6"/>
<ellipse cx="520" cy="712" rx="30" ry="5" fill="#5ab8c8" opacity="0.5"/>
<ellipse cx="650" cy="725" rx="40" ry="5" fill="#6ac0ce" opacity="0.5"/>
<ellipse cx="300" cy="735" rx="30" ry="6" fill="#6cc0ce" opacity="0.5"/>
<ellipse cx="790" cy="715" rx="20" ry="8" fill="#5ab8c8" opacity="0.5"/>
</g>
<!-- title -->
<text x="342" y="527" font-size="14" font-style="italic" fill="#fff" textLength="361" lengthAdjust="spacingAndGlyphs">Solar-driven value-added fuel and disinfector production</text>
<!-- crystal -->
<polygon points="286,664 340,646 438,654 372,681" fill="#d92020"/>
<polygon points="288,660 340,644 436,650 372,676" fill="#2ec0d8"/>
<polygon points="300,657 348,640 428,645 372,667" fill="#4cb830"/>
<polygon points="289,646 342,625 441,639 377,662" fill="#e02828"/>
<polygon points="289,642 342,622 441,636 377,658" fill="#f03a3a"/>
<g fill="#2a3ab0" opacity="0.8">
<circle cx="320" cy="640" r="1.2"/><circle cx="345" cy="636" r="1.2"/><circle cx="370" cy="640" r="1.2"/><circle cx="395" cy="642" r="1.2"/><circle cx="355" cy="648" r="1.2"/><circle cx="380" cy="650" r="1.2"/><circle cx="335" cy="630" r="1.2"/><circle cx="410" cy="640" r="1.2"/>
</g>
<!-- molecules -->
<path d="M328,628 C345,640 360,640 372,630" fill="none" stroke="#f2e08a" stroke-width="3" opacity="0.8"/>
<path d="M385,616 C395,600 410,605 418,615" fill="none" stroke="#f2e08a" stroke-width="3" opacity="0.8"/>
<path d="M330,672 C340,665 355,670 358,685" fill="none" stroke="#f2e08a" stroke-width="3" opacity="0.8"/>
<path d="M382,688 C390,690 398,683 402,678" fill="none" stroke="#f2e08a" stroke-width="3" opacity="0.8"/>
<circle cx="315" cy="609" r="4" fill="url(#gO)"/><circle cx="321" cy="617" r="3.8" fill="url(#gC)"/><circle cx="316" cy="623" r="4" fill="url(#gO)"/><circle cx="329" cy="617" r="4" fill="url(#gO)"/>
<circle cx="357" cy="613" r="4.6" fill="url(#gO)"/><circle cx="363" cy="622" r="3.8" fill="url(#gC)"/><circle cx="372" cy="615" r="4.4" fill="url(#gO)"/>
<circle cx="420" cy="623" r="4" fill="url(#gC)"/><circle cx="430" cy="616" r="5" fill="url(#gO)"/>
<circle cx="319" cy="684" r="5" fill="url(#gClm)"/><circle cx="357" cy="694" r="5" fill="url(#gClm)"/><circle cx="364" cy="685" r="5" fill="url(#gClm)"/>
<circle cx="388" cy="679" r="4.5" fill="url(#gO)"/><circle cx="382" cy="684" r="2" fill="url(#gH)"/>
<circle cx="411" cy="680" r="4" fill="url(#gClm)"/><circle cx="420" cy="679" r="4" fill="url(#gO)"/>
<!-- bacteria -->
<rect x="447" y="655" width="16" height="45" rx="8" fill="#f0c49c" stroke="#d8a070" stroke-width="1"/>
<rect x="532" y="654" width="16" height="48" rx="8" fill="#f0c49c" stroke="#d8a070" stroke-width="1"/>
<ellipse cx="540" cy="679" rx="5" ry="4" fill="#e02828"/>
<ellipse cx="536" cy="712" rx="4" ry="3.5" fill="#e02828"/><ellipse cx="555" cy="706" rx="4" ry="3.5" fill="#e02828"/>
<polygon points="431,668 436,671 440,666 443,671 449,668 446,674 452,677 446,679 448,684 442,681 439,686 436,681 430,683 433,678 428,675 433,673" fill="#fff"/>
<text x="432" y="678" font-size="6.5" font-style="italic" font-weight="bold" fill="#1a3a90">HClO</text>
<text x="470" y="673" font-size="11" font-style="italic" fill="#fff">Inactivating</text>
<line x1="470" y1="680" x2="520" y2="680" stroke="#333" stroke-width="1.5" stroke-dasharray="4,2"/>
<path d="M520,677 L526,680 L520,683Z" fill="#333"/>
<!-- ship -->
<rect x="695" y="608" width="60" height="11" fill="#eef0f3" stroke="#c8ccd2" stroke-width="0.5"/>
<rect x="690" y="621" width="68" height="12" fill="#eef0f3" stroke="#c8ccd2" stroke-width="0.5"/>
<rect x="683" y="636" width="94" height="14" fill="#eef0f3" stroke="#c8ccd2" stroke-width="0.5"/>
<line x1="700" y1="613.5" x2="750" y2="613.5" stroke="#2f55b0" stroke-width="2.5" stroke-dasharray="3,1.5"/>
<line x1="695" y1="627" x2="752" y2="627" stroke="#2f55b0" stroke-width="2.5" stroke-dasharray="3,1.5"/>
<line x1="689" y1="642" x2="770" y2="642" stroke="#2f55b0" stroke-width="2.5" stroke-dasharray="3,1.5"/>
<rect x="612" y="626" width="16" height="11" fill="#e88a9a"/><rect x="628" y="626" width="17" height="11" fill="#8fd2d2"/><rect x="645" y="626" width="17" height="11" fill="#eab47e"/>
<rect x="603" y="637" width="17" height="11" fill="#8fd2d2"/><rect x="620" y="637" width="17" height="11" fill="#eab47e"/><rect x="637" y="637" width="16" height="11" fill="#98d08b"/><rect x="653" y="637" width="17" height="11" fill="#e88a9a"/>
<polygon points="560,650 783,650 776,672 764,692 750,713 592,713 578,692 568,670" fill="#4f5a68"/>
<rect x="590" y="648" width="16" height="10" fill="#e8b07a"/><rect x="606" y="648" width="17" height="10" fill="#e88a9a"/><rect x="623" y="648" width="17" height="10" fill="#8fd2d2"/><rect x="640" y="648" width="17" height="10" fill="#98d08b"/><rect x="657" y="648" width="17" height="10" fill="#a8c8e8"/>
<line x1="562" y1="650" x2="600" y2="650" stroke="#8a949e" stroke-width="2"/>
<polygon points="574,680 770,680 764,692 750,712 592,712 580,692" fill="#7d8894" opacity="0.85"/>
<line x1="667" y1="680" x2="667" y2="712" stroke="#c8ced6" stroke-width="0.8" stroke-dasharray="2,2"/>
<text x="570" y="674" font-size="10" font-style="italic" fill="#fff" textLength="72" lengthAdjust="spacingAndGlyphs">Ballast seawater</text>
<line x1="645" y1="670" x2="681" y2="670" stroke="#fff" stroke-width="1.2" stroke-dasharray="4,2.5"/>
<path d="M681,667 L686,670 L681,673Z" fill="#fff"/>
<text x="688" y="674" font-size="10" font-style="italic" fill="#fff" textLength="79" lengthAdjust="spacingAndGlyphs">Sterilized seawater</text>
<g fill="#1ab84a">
<ellipse cx="573" cy="686" rx="4" ry="3.5"/><ellipse cx="594" cy="700" rx="9" ry="4.5"/><ellipse cx="615" cy="694" rx="4" ry="3.5"/><ellipse cx="633" cy="694" rx="8" ry="4.5"/><ellipse cx="656" cy="686" rx="4" ry="3.5"/><ellipse cx="657" cy="708" rx="8" ry="4"/><ellipse cx="584" cy="710" rx="4" ry="3.5"/><ellipse cx="628" cy="708" rx="4" ry="3.5"/>
<ellipse cx="695" cy="687" rx="4" ry="3.5"/><ellipse cx="680" cy="702" rx="4" ry="3.5"/><ellipse cx="707" cy="705" rx="4" ry="3.5"/><ellipse cx="727" cy="697" rx="4" ry="3.5"/><ellipse cx="751" cy="690" rx="4" ry="3.5"/><ellipse cx="742" cy="707" rx="4" ry="3.5"/>
</g>
<g fill="#e8c08a"><ellipse cx="604" cy="688" rx="6" ry="2.5"/><ellipse cx="643" cy="688" rx="6" ry="2.5" transform="rotate(30 643 688)"/><ellipse cx="608" cy="706" rx="5" ry="2" fill="#c8d050"/><ellipse cx="586" cy="695" rx="5" ry="2" fill="#a8d040" transform="rotate(30 586 695)"/></g>
<g font-size="4.5" font-style="italic" fill="#fff" text-anchor="middle">
<text x="594" y="702">HClO</text><text x="633" y="696">HClO</text><text x="657" y="710">HClO</text>
</g>
<!-- legend g -->
<circle cx="292" cy="721" r="4.5" fill="url(#gH)"/><circle cx="309" cy="721" r="4.5" fill="url(#gBi)"/><circle cx="328" cy="721" r="4.5" fill="url(#gC)"/><circle cx="346" cy="721" r="4.5" fill="url(#gN)"/><circle cx="363" cy="721" r="4.5" fill="url(#gO)"/><circle cx="380" cy="721" r="4.5" fill="url(#gClm)"/><circle cx="398" cy="721" r="4.5" fill="url(#gK)"/>
<g font-family="Liberation Serif, serif" font-weight="bold" font-size="8" fill="#22304a" text-anchor="middle">
<text x="292" y="736">H</text><text x="309" y="736">Bi</text><text x="328" y="736">C</text><text x="346" y="736">N</text><text x="363" y="736">O</text><text x="380" y="736">Cl</text><text x="398" y="736">OV</text>
</g>
</g>
</svg>
</body></html>
